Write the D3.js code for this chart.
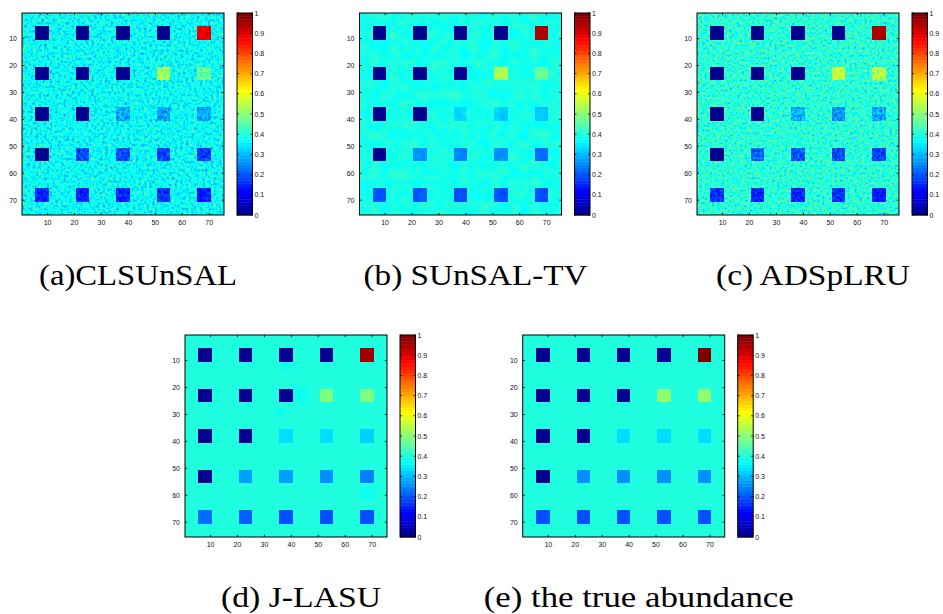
<!DOCTYPE html>
<html>
<head>
<meta charset="utf-8">
<script src="https://cdn.jsdelivr.net/npm/d3@7"></script>
<style>
  body { margin: 0; background: #fff; }
  svg { display: block; }
</style>
</head>
<body>
<svg id="fig" width="943" height="614"></svg>
<script>
// ---- Abundance maps: 75 x 75 pixels, a 5 x 5 grid of 5 x 5-pixel squares ----
const gridSize = 75;
const squareStarts = [6, 21, 36, 51, 66];   // first pixel (row or column) of each square
const squareSide = 5;

const captions = ["(a)CLSUnSAL", "(b) SUnSAL-TV", "(c) ADSpLRU", "(d) J-LASU", "(e) the true abundance"];

// background abundance of each map
const backgroundLevels = [0.37, 0.39, 0.405, 0.405, 0.4051];

// square abundances, rows top to bottom, columns left to right
const clsunsalSquares = [
  [0, 0, 0, 0, 0.89],
  [0, 0, 0, 0.52, 0.47],
  [0, 0, 0.28, 0.27, 0.28],
  [0, 0.19, 0.19, 0.18, 0.17],
  [0.15, 0.15, 0.15, 0.16, 0.14]
];
const sunsalTvSquares = [
  [0, 0, 0, 0, 0.95],
  [0, 0, 0, 0.53, 0.46],
  [0, 0, 0.33, 0.32, 0.31],
  [0, 0.26, 0.24, 0.26, 0.22],
  [0.2, 0.2, 0.19, 0.2, 0.19]
];
const adsplruSquares = [
  [0, 0, 0, 0, 0.95],
  [0, 0, 0, 0.56, 0.54],
  [0, 0, 0.29, 0.26, 0.28],
  [0, 0.21, 0.2, 0.19, 0.18],
  [0.16, 0.15, 0.15, 0.16, 0.14]
];
const jlasuSquares = [
  [0, 0, 0, 0, 0.97],
  [0, 0, 0, 0.49, 0.49],
  [0, 0, 0.34, 0.34, 0.32],
  [0, 0.27, 0.27, 0.25, 0.24],
  [0.22, 0.21, 0.19, 0.2, 0.2]
];
const trueSquares = [
  [0, 0, 0, 0, 1],
  [0, 0, 0, 0.5, 0.5],
  [0, 0, 1 / 3, 1 / 3, 1 / 3],
  [0, 0.25, 0.25, 0.25, 0.25],
  [0.2, 0.2, 0.2, 0.2, 0.2]
];
const squareValues = [clsunsalSquares, sunsalTvSquares, adsplruSquares, jlasuSquares, trueSquares];

// small residual patches: [first column, first row, width, height, abundance]
const sunsalTvPatches = [[41, 21, 2, 5, 0.37]];
const jlasuPatches = [
  [36, 11, 5, 3, 0.39],
  [41, 20, 6, 6, 0.385],
  [34, 28, 4, 3, 0.39],
  [66, 57, 6, 5, 0.39]
];
const patchLists = [[], sunsalTvPatches, [], jlasuPatches, []];

const axisTicks = [10, 20, 30, 40, 50, 60, 70];
const colorbarTicks = [0, 0.1, 0.2, 0.3, 0.4, 0.5, 0.6, 0.7, 0.8, 0.9, 1];
const colorbarTickLabels = ["0", "0.1", "0.2", "0.3", "0.4", "0.5", "0.6", "0.7", "0.8", "0.9", "1"];

// ---- layout and style ----
const panelOrigins = [[22, 13], [359.5, 13], [697, 13], [185, 335], [522.7, 335]];
const boxSize = 202;
const colorbarOffset = 215, colorbarWidth = 15.5;
const captionOffsetX = 116;
const captionBaselineGap = 272;
const captionWidths = [198, 224, 194, 160, 310];
// pixel grain of the estimated maps: its strength scales with v*(1-v),
// so pure zeros and ones stay nearly flat
const grainStyles = [
  { gain: 0.6, floor: 0.04, freq: 0.36, oct: 2, seed: 3 },
  { gain: 0.16, floor: 0.02, freq: 0.1, oct: 2, seed: 8 },
  { gain: 0.62, floor: 0.04, freq: 0.4, oct: 2, seed: 5 },
  null,
  null
];

// MATLAB jet(64) colormap
const jet64 = d3.range(1, 65).map(i => {
  const r = i < 25 ? 0 : i <= 40 ? (i - 24) / 16 : i <= 56 ? 1 : (72 - i) / 16;
  const g = i < 9 ? 0 : i <= 24 ? (i - 8) / 16 : i <= 40 ? 1 : i <= 55 ? (56 - i) / 16 : 0;
  const b = i <= 8 ? (i + 8) / 16 : i <= 24 ? 1 : i <= 39 ? (40 - i) / 16 : 0;
  return [r, g, b];
});
const jetColor = d3.scaleQuantize().domain([0, 1])
  .range(jet64.map(c => d3.rgb(c[0] * 255, c[1] * 255, c[2] * 255).toString()));
// abundance encoded as grey level; the panel filter maps it onto jet
const greyLevel = d3.scaleLinear().domain([0, 1]).range(["#000000", "#ffffff"]).clamp(true);

const svg = d3.select("#fig");
const defs = svg.append("defs");
const tickFont = "'Liberation Sans', Arial, Helvetica, sans-serif";

function makeFilter(id, x0, y0, grain) {
  const f = defs.append("filter").attr("id", id)
    .attr("filterUnits", "userSpaceOnUse")
    .attr("x", x0 - 6).attr("y", y0 - 6)
    .attr("width", boxSize + 12).attr("height", boxSize + 12)
    .attr("color-interpolation-filters", "sRGB");
  f.append("feGaussianBlur").attr("in", "SourceGraphic").attr("stdDeviation", 0.75).attr("result", "v");
  let src = "v";
  if (grain) {
    // 1 - v
    const inv = f.append("feComponentTransfer").attr("in", "v").attr("result", "inv");
    ["R", "G", "B"].forEach(ch => inv.append("feFunc" + ch).attr("type", "linear").attr("slope", -1).attr("intercept", 1));
    // w = v * (1 - v)
    f.append("feComposite").attr("in", "v").attr("in2", "inv").attr("operator", "arithmetic")
      .attr("k1", 1).attr("k2", 0).attr("k3", 0).attr("k4", 0).attr("result", "w");
    // grey grain centred on 0.5, scaled by gain
    f.append("feTurbulence").attr("type", "fractalNoise")
      .attr("baseFrequency", grain.freq).attr("numOctaves", grain.oct)
      .attr("seed", grain.seed).attr("result", "t");
    f.append("feColorMatrix").attr("in", "t").attr("type", "matrix")
      .attr("values", "1 0 0 0 0  1 0 0 0 0  1 0 0 0 0  0 0 0 0 1").attr("result", "n0");
    const nt = f.append("feComponentTransfer").attr("in", "n0").attr("result", "n");
    ["R", "G", "B"].forEach(ch => nt.append("feFunc" + ch).attr("type", "linear")
      .attr("slope", grain.gain).attr("intercept", 0.5 - 0.5 * grain.gain));
    // d = 0.5 + (2w + floor) * (n - 0.5)
    f.append("feComposite").attr("in", "w").attr("in2", "n").attr("operator", "arithmetic")
      .attr("k1", 2).attr("k2", -1).attr("k3", grain.floor).attr("k4", 0.5 - grain.floor / 2)
      .attr("result", "d");
    // v' = v + d - 0.5
    f.append("feComposite").attr("in", "v").attr("in2", "d").attr("operator", "arithmetic")
      .attr("k1", 0).attr("k2", 1).attr("k3", 1).attr("k4", -0.5).attr("result", "vn");
    src = "vn";
  }
  const ct = f.append("feComponentTransfer").attr("in", src);
  ["R", "G", "B"].forEach((ch, k) => {
    ct.append("feFunc" + ch).attr("type", "discrete")
      .attr("tableValues", jet64.map(c => c[k].toFixed(4)).join(" "));
  });
}

captions.forEach((caption, p) => {
  const [x0, y0] = panelOrigins[p];
  const x = d3.scaleLinear().domain([0.5, gridSize + 0.5]).range([x0, x0 + boxSize]);
  const y = d3.scaleLinear().domain([0.5, gridSize + 0.5]).range([y0, y0 + boxSize]);

  const clipId = "clip" + p, filterId = "map" + p;
  defs.append("clipPath").attr("id", clipId)
    .append("rect").attr("x", x0).attr("y", y0).attr("width", boxSize).attr("height", boxSize);
  makeFilter(filterId, x0, y0, grainStyles[p]);

  const img = svg.append("g").attr("clip-path", `url(#${clipId})`)
    .append("g").attr("filter", `url(#${filterId})`);

  // background (extends past the frame so the blur stays even at the edges)
  img.append("rect")
    .attr("x", x(-1)).attr("y", y(-1))
    .attr("width", x(gridSize + 2) - x(-1)).attr("height", y(gridSize + 2) - y(-1))
    .attr("fill", greyLevel(backgroundLevels[p]));

  // residual patches
  img.selectAll("rect.patch").data(patchLists[p]).join("rect")
    .attr("class", "patch")
    .attr("x", d => x(d[0] - 0.5)).attr("y", d => y(d[1] - 0.5))
    .attr("width", d => x(d[0] + d[2] - 0.5) - x(d[0] - 0.5))
    .attr("height", d => y(d[1] + d[3] - 0.5) - y(d[1] - 0.5))
    .attr("fill", d => greyLevel(d[4]));

  // 25 squares
  const cells = [];
  squareValues[p].forEach((row, r) => row.forEach((v, c) => cells.push({ r, c, v })));
  img.selectAll("rect.sq").data(cells).join("rect")
    .attr("class", "sq")
    .attr("x", d => x(squareStarts[d.c] - 0.5))
    .attr("y", d => y(squareStarts[d.r] - 0.5))
    .attr("width", x(squareSide + 0.5) - x(0.5))
    .attr("height", y(squareSide + 0.5) - y(0.5))
    .attr("fill", d => greyLevel(d.v))
    .attr("shape-rendering", "crispEdges");

  // frame and inward ticks on all four sides
  const frame = svg.append("g");
  frame.append("rect").attr("x", x0).attr("y", y0).attr("width", boxSize).attr("height", boxSize)
    .attr("fill", "none").attr("stroke", "#000").attr("stroke-width", 1);
  const tl = 2.2;
  axisTicks.forEach(t => {
    frame.append("line").attr("x1", x(t)).attr("x2", x(t)).attr("y1", y0 + boxSize).attr("y2", y0 + boxSize - tl);
    frame.append("line").attr("x1", x(t)).attr("x2", x(t)).attr("y1", y0).attr("y2", y0 + tl);
    frame.append("line").attr("y1", y(t)).attr("y2", y(t)).attr("x1", x0).attr("x2", x0 + tl);
    frame.append("line").attr("y1", y(t)).attr("y2", y(t)).attr("x1", x0 + boxSize).attr("x2", x0 + boxSize - tl);
  });
  frame.selectAll("line").attr("stroke", "#000").attr("stroke-width", 0.8);

  // tick labels
  frame.selectAll("text.xt").data(axisTicks).join("text")
    .attr("class", "xt")
    .attr("x", d => x(d)).attr("y", y0 + boxSize + 9.5)
    .attr("text-anchor", "middle")
    .attr("font-family", tickFont).attr("font-size", 7).attr("fill", "#111")
    .text(d => d);
  frame.selectAll("text.yt").data(axisTicks).join("text")
    .attr("class", "yt")
    .attr("x", x0 - 5).attr("y", d => y(d) + 2.5)
    .attr("text-anchor", "end")
    .attr("font-family", tickFont).attr("font-size", 7).attr("fill", "#111")
    .text(d => d);

  // colorbar
  const cbx = x0 + colorbarOffset;
  const cy = d3.scaleLinear().domain([0, 1]).range([y0 + boxSize, y0]);
  const cb = svg.append("g");
  cb.selectAll("rect.band").data(d3.range(64)).join("rect")
    .attr("class", "band")
    .attr("x", cbx).attr("width", colorbarWidth)
    .attr("y", k => cy((k + 1) / 64))
    .attr("height", k => cy(k / 64) - cy((k + 1) / 64) + 0.4)
    .attr("fill", k => jetColor((k + 0.5) / 64));
  cb.append("rect").attr("x", cbx).attr("y", y0).attr("width", colorbarWidth).attr("height", boxSize)
    .attr("fill", "none").attr("stroke", "#000").attr("stroke-width", 1);
  colorbarTicks.forEach(t => {
    cb.append("line").attr("x1", cbx).attr("x2", cbx + 2).attr("y1", cy(t)).attr("y2", cy(t));
    cb.append("line").attr("x1", cbx + colorbarWidth).attr("x2", cbx + colorbarWidth - 2).attr("y1", cy(t)).attr("y2", cy(t));
  });
  cb.selectAll("line").attr("stroke", "#000").attr("stroke-width", 0.8);
  cb.selectAll("text").data(colorbarTicks).join("text")
    .attr("x", cbx + colorbarWidth + 2).attr("y", (d) => cy(d) + 2.5)
    .attr("font-family", tickFont).attr("font-size", 7).attr("fill", "#111")
    .text((d, i) => colorbarTickLabels[i]);

  // caption
  svg.append("text")
    .attr("x", x0 + captionOffsetX).attr("y", y0 + captionBaselineGap)
    .attr("text-anchor", "middle")
    .attr("font-family", "'Liberation Serif', 'Times New Roman', serif")
    .attr("font-size", 30)
    .attr("textLength", captionWidths[p])
    .attr("lengthAdjust", "spacingAndGlyphs")
    .attr("fill", "#000")
    .text(caption);
});
</script>
</body>
</html>
